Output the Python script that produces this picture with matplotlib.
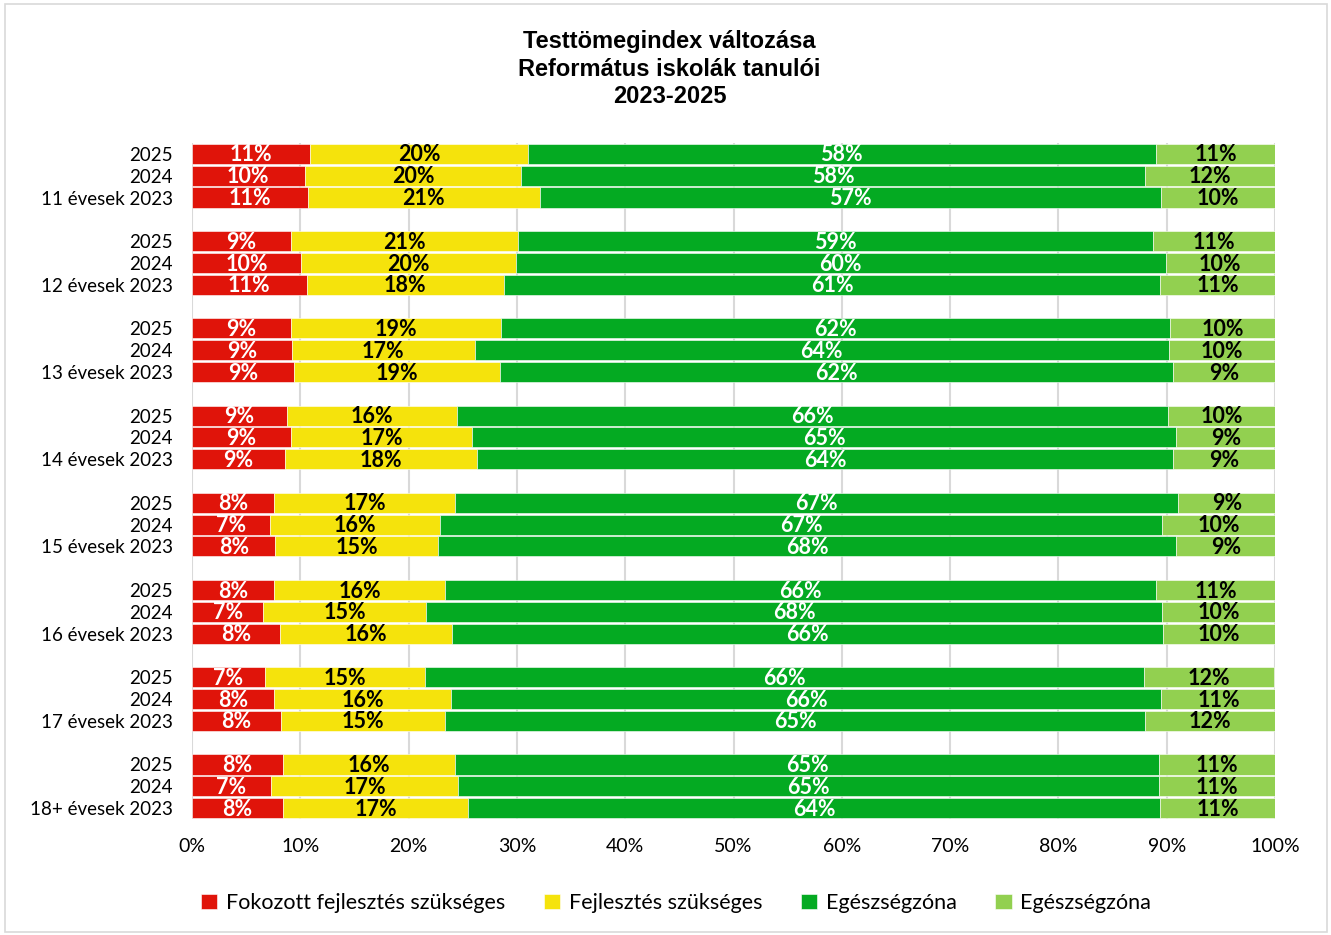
import matplotlib
matplotlib.use("Agg")
import matplotlib.pyplot as plt
import numpy as np
from matplotlib.patches import Rectangle

# age groups, each with years 2025, 2024, 2023 (top to bottom)
groups = ["11 évesek", "12 évesek", "13 évesek", "14 évesek",
          "15 évesek", "16 évesek", "17 évesek", "18+ évesek"]
years = ["2025", "2024", "2023"]

# percentages, rows in order: group x (2025, 2024, 2023)
fokozott = [10.9, 10.4, 10.7,   9.1, 10.1, 10.6,   9.1, 9.2, 9.4,   8.8, 9.1, 8.6,
            7.6, 7.2, 7.7,      7.6, 6.6, 8.1,     6.7, 7.6, 8.2,   8.4, 7.3, 8.4]
fejlesztes = [20.1, 20.0, 21.4,  21.0, 19.8, 18.2,  19.4, 16.9, 19.0,  15.7, 16.8, 17.7,
              16.7, 15.7, 15.0,  15.8, 15.0, 15.9,  14.8, 16.3, 15.2,  15.9, 17.3, 17.1]
egeszseg = [58.0, 57.6, 57.4,  58.6, 60.0, 60.6,  61.8, 64.1, 62.2,  65.6, 65.0, 64.3,
            66.7, 66.7, 68.2,  65.6, 68.0, 65.7,  66.4, 65.6, 64.6,  65.0, 64.7, 63.9]
egeszseg2 = [11.0, 12.0, 10.5,  11.3, 10.1, 10.6,  9.7, 9.8, 9.4,  9.9, 9.1, 9.4,
             9.1, 10.4, 9.1,    11.0, 10.4, 10.3,  12.0, 10.6, 12.0,  10.7, 10.7, 10.6]

series = [
    ("Fokozott fejlesztés szükséges", fokozott, "#E0140A", "white"),
    ("Fejlesztés szükséges", fejlesztes, "#F5E30C", "black"),
    ("Egészségzóna", egeszseg, "#04AA22", "white"),
    ("Egészségzóna", egeszseg2, "#92D050", "black"),
]

FONT = "Lato"

# row positions: 3 bars per group plus an empty slot between groups
pos = []
labels = []
for g, name in enumerate(groups):
    for k, y in enumerate(years):
        pos.append(g * 4 + k)
        labels.append(f"{name} {y}" if y == "2023" else y)
pos = np.array(pos)

fig = plt.figure(figsize=(13.31, 9.35), dpi=100)
ax = fig.add_axes([192 / 1331, 1 - 819 / 935, 1083 / 1331, 676 / 935])

left = np.zeros(len(pos))
handles = []
for name, vals, color, tcolor in series:
    vals = np.array(vals)
    bars = ax.barh(pos, vals, left=left, height=0.92, color=color,
                   edgecolor="white", linewidth=0.4, label=name, zorder=3)
    handles.append(bars)
    for p, l, v in zip(pos, left, vals):
        ax.text(l + v / 2, p + 0.05, f"{v:.0f}%", ha="center", va="center",
                color=tcolor, fontsize=15.5, fontweight="bold", family=FONT, zorder=4)
    left += vals

ax.set_xlim(0, 100)
ax.set_ylim(30.5, -0.5)
ax.set_xticks(np.arange(0, 101, 10))
ax.set_xticklabels([f"{t}%" for t in range(0, 101, 10)], family=FONT, fontsize=14)
ax.set_yticks(pos)
ax.set_yticklabels(labels, family=FONT, fontsize=13.5)
ax.tick_params(length=0, pad=14)
ax.tick_params(axis="x", pad=14)
ax.grid(axis="x", color="#D9D9D9", linewidth=1.5, zorder=0)
for s in ax.spines.values():
    s.set_visible(False)

fig.text(0.503, 1 - 30 / 935, "Testtömegindex változása\nReformátus iskolák tanulói\n2023-2025",
         ha="center", va="top", family="Liberation Sans", fontweight="bold",
         fontsize=17, linespacing=1.25)

fig.legend(handles=handles, loc="center", bbox_to_anchor=(0.508, 1 - 903 / 935),
           ncol=4, frameon=False, prop={"family": FONT, "size": 15.5},
           handlelength=0.75, handleheight=0.75, handletextpad=0.4, columnspacing=1.8)

fig.patches.append(Rectangle((5 / 1331, 3 / 935), 1322 / 1331, 928 / 935,
                             transform=fig.transFigure, fill=False,
                             edgecolor="#D9D9D9", linewidth=1.2))

fig.savefig("out.png", dpi=100)
